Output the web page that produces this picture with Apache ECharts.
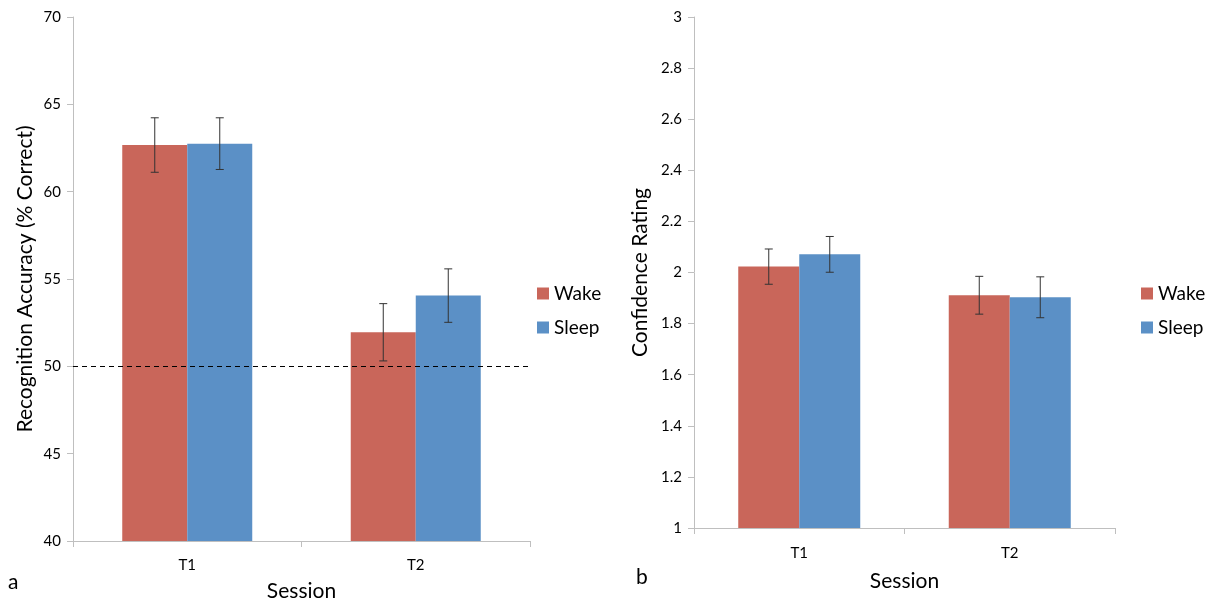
<!DOCTYPE html>
<html lang="en">
<head>
    <meta charset="UTF-8">
    <title>Recognition accuracy and confidence</title>
    <script type="text/javascript" src="https://cdn.jsdelivr.net/npm/echarts@6/dist/echarts.min.js"></script>
    <style>
        html, body { margin: 0; padding: 0; background: #fff; }
        #main { width: 1205px; height: 603px; }
    </style>
</head>
<body>
<div id="main"></div>
<script>
    // data
    var sessions = ['T1', 'T2'];
    var accWake = [62.67, 51.95];
    var accSleep = [62.75, 54.05];
    var accWakeErr = [1.56, 1.64];
    var accSleepErr = [1.48, 1.53];
    var chanceLevel = 50;
    var confWake = [2.023, 1.911];
    var confSleep = [2.071, 1.903];
    var confWakeErr = [0.069, 0.074];
    var confSleepErr = [0.070, 0.080];

    var RED = '#C9665A';
    var BLUE = '#5B90C6';
    var FONT = 'Lato';

    var dom = document.getElementById('main');
    var myChart = echarts.init(dom);

    function errData(means, errs) {
        var out = [];
        for (var i = 0; i < means.length; i++) out.push([i, means[i], errs[i]]);
        return out;
    }

    // error bar drawn with the axis scales, shifted to the bar's centre
    function errSeries(name, xi, data, shift) {
        return {
            type: 'custom',
            name: name + ' err',
            xAxisIndex: xi,
            yAxisIndex: xi,
            z: 5,
            silent: true,
            encode: {x: 0, y: 1},
            data: data,
            renderItem: function (params, api) {
                var c = api.value(0), m = api.value(1), e = api.value(2);
                var hi = api.coord([c, m + e]);
                var lo = api.coord([c, m - e]);
                var x = hi[0] + shift;
                var st = {stroke: '#333', lineWidth: 1};
                return {
                    type: 'group',
                    children: [
                        {type: 'line', shape: {x1: x, y1: hi[1], x2: x, y2: lo[1]}, style: st},
                        {type: 'line', shape: {x1: x - 4, y1: hi[1], x2: x + 4, y2: hi[1]}, style: st},
                        {type: 'line', shape: {x1: x - 4, y1: lo[1], x2: x + 4, y2: lo[1]}, style: st}
                    ]
                };
            }
        };
    }

    var axisLine = {lineStyle: {color: '#bfbfbf', width: 1}};
    var labelStyle = {color: '#000', fontSize: 15, fontFamily: FONT};
    var legendBase = {
        data: ['Wake', 'Sleep'],
        orient: 'vertical',
        top: 279,
        itemWidth: 12, itemHeight: 12, itemGap: 15,
        icon: 'rect',
        textStyle: {fontSize: 19, color: '#000', fontFamily: FONT}
    };

    option = {
        backgroundColor: '#fff',
        animation: false,
        grid: [
            {left: 73, right: 675, top: 17, bottom: 62, outerBoundsMode: 'none', containLabel: false},
            {left: 694, right: 90, top: 17, bottom: 75, outerBoundsMode: 'none', containLabel: false}
        ],
        legend: [
            Object.assign({left: 532}, legendBase),
            Object.assign({left: 1136}, legendBase)
        ],
        xAxis: [
            {
                type: 'category', gridIndex: 0, data: sessions,
                name: 'Session', nameLocation: 'middle', nameGap: 40,
                nameTextStyle: {fontSize: 21, color: '#000', fontFamily: FONT},
                axisLine: axisLine,
                axisTick: {show: true, length: 6, lineStyle: {color: '#bfbfbf'}},
                axisLabel: Object.assign({margin: 17}, labelStyle)
            },
            {
                type: 'category', gridIndex: 1, data: sessions,
                name: 'Session', nameLocation: 'middle', nameGap: 43,
                nameTextStyle: {fontSize: 21, color: '#000', fontFamily: FONT},
                axisLine: axisLine,
                axisTick: {show: true, length: 6, lineStyle: {color: '#bfbfbf'}},
                axisLabel: Object.assign({margin: 18}, labelStyle)
            }
        ],
        yAxis: [
            {
                type: 'value', gridIndex: 0, min: 40, max: 70, interval: 5,
                name: 'Recognition Accuracy (% Correct)', nameLocation: 'middle', nameGap: 37,
                nameRotate: 90,
                nameTextStyle: {fontSize: 21, color: '#000', fontFamily: FONT},
                axisLine: {show: true, lineStyle: {color: '#bfbfbf'}},
                axisTick: {show: true, length: 6, lineStyle: {color: '#bfbfbf'}},
                splitLine: {show: false},
                axisLabel: Object.assign({margin: 12}, labelStyle)
            },
            {
                type: 'value', gridIndex: 1, min: 1, max: 3, interval: 0.2,
                name: 'Confidence Rating', nameLocation: 'middle', nameGap: 43,
                nameRotate: 90,
                nameTextStyle: {fontSize: 21, color: '#000', fontFamily: FONT},
                axisLine: {show: true, lineStyle: {color: '#bfbfbf'}},
                axisTick: {show: true, length: 6, lineStyle: {color: '#bfbfbf'}},
                splitLine: {show: false},
                axisLabel: Object.assign({margin: 12}, labelStyle)
            }
        ],
        graphic: [
            {type: 'text', left: 8, top: 572, style: {text: 'a', fontSize: 21, fill: '#000', fontFamily: FONT}},
            {type: 'text', left: 636, top: 567, style: {text: 'b', fontSize: 21, fill: '#000', fontFamily: FONT}}
        ],
        series: [
            {
                name: 'Wake', type: 'bar', xAxisIndex: 0, yAxisIndex: 0,
                data: accWake, barWidth: 65, barGap: '0%',
                itemStyle: {color: RED},
                markLine: {
                    silent: true, symbol: 'none',
                    label: {show: false},
                    lineStyle: {color: '#000', type: [5, 4], width: 1},
                    data: [{yAxis: chanceLevel}]
                }
            },
            {
                name: 'Sleep', type: 'bar', xAxisIndex: 0, yAxisIndex: 0,
                data: accSleep, barWidth: 65, barGap: '0%',
                itemStyle: {color: BLUE}
            },
            {
                name: 'Wake', type: 'bar', xAxisIndex: 1, yAxisIndex: 1,
                data: confWake, barWidth: 61, barGap: '0%',
                itemStyle: {color: RED}
            },
            {
                name: 'Sleep', type: 'bar', xAxisIndex: 1, yAxisIndex: 1,
                data: confSleep, barWidth: 61, barGap: '0%',
                itemStyle: {color: BLUE}
            },
            errSeries('Wake', 0, errData(accWake, accWakeErr), -32.5),
            errSeries('Sleep', 0, errData(accSleep, accSleepErr), 32.5),
            errSeries('Wake', 1, errData(confWake, confWakeErr), -30.5),
            errSeries('Sleep', 1, errData(confSleep, confSleepErr), 30.5)
        ]
    };

    myChart.setOption(option, true);
</script>
</body>
</html>
